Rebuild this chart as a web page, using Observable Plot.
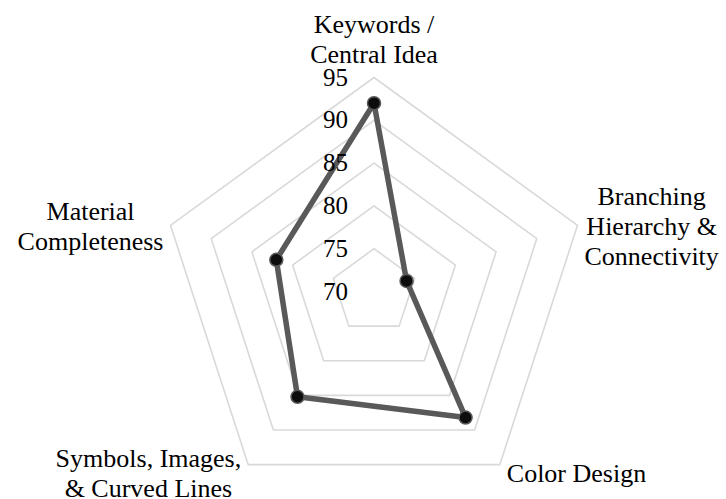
<!DOCTYPE html>
<html>
<head>
<meta charset="utf-8">
<script src="https://cdn.jsdelivr.net/npm/d3@7"></script>
<script src="https://cdn.jsdelivr.net/npm/@observablehq/plot@0.6"></script>
<style>
  html, body { margin: 0; padding: 0; background: #ffffff; }
  #chart svg { display: block; }
</style>
</head>
<body>
<div id="chart"></div>
<script>
// Radar chart: mind-map assessment scores across five criteria
const categories = [
  "Keywords /\nCentral Idea",
  "Branching\nHierarchy &\nConnectivity",
  "Color Design",
  "Symbols, Images,\n& Curved Lines",
  "Material\nCompleteness"
];
const scores = [92, 74, 88.2, 85.2, 82];
const tickLabels = [70, 75, 80, 85, 90, 95];
const ringLevels = [75, 80, 85, 90, 95];

const minValue = 70;
const maxValue = 95;

// layout
const width = 726;
const height = 499;
const cx = 373.5;          // centre of the web, px
const cy = 291;
const radiusPx = 214;      // radius of the outer ring, px
const k = radiusPx / (maxValue - minValue); // px per score unit
const fontFamily = '"Liberation Serif", "Times New Roman", serif';
const labelSize = 26;
const tickSize = 25;
const lineHeight = 1.15;
const gap = 7;

const n = categories.length;
const angle = i => (i * 2 * Math.PI) / n;
const polar = (i, v) => {
  const r = v - minValue;
  return { x: r * Math.sin(angle(i)), y: r * Math.cos(angle(i)) };
};

// grid rings (closed pentagons)
const rings = ringLevels.flatMap(level =>
  d3.range(n + 1).map(j => ({ level, ...polar(j % n, level) }))
);

// score polygon
const points = scores.map((s, i) => ({ category: categories[i], score: s, ...polar(i, s) }));
const outline = [...points, points[0]];

// text measurement for placing the category labels just outside the vertices
const ctx = document.createElement("canvas").getContext("2d");
ctx.font = `${labelSize}px ${fontFamily}`;
const labels = categories.map((c, i) => {
  const lines = c.split("\n");
  const w = d3.max(lines, l => ctx.measureText(l).width);
  const v = polar(i, maxValue);
  const s = Math.sin(angle(i)), co = Math.cos(angle(i));
  const sx = Math.abs(s) < 0.01 ? 0 : Math.sign(s);
  const blockH = lines.length * labelSize * lineHeight;
  const dyPx = co > 0.9 ? -(gap + 2 + blockH / 2) : co < -0.5 ? 8 : 0;
  return {
    text: c,
    x: v.x + (sx * (gap + w / 2)) / k,
    y: v.y - dyPx / k
  };
});

const chart = Plot.plot({
  width,
  height,
  margin: 0,
  x: { domain: [-cx / k, (width - cx) / k], range: [0, width], axis: null },
  y: { domain: [-(height - cy) / k, cy / k], range: [height, 0], axis: null },
  style: { fontFamily, background: "#ffffff" },
  marks: [
    Plot.line(rings, { x: "x", y: "y", z: "level", stroke: "#d9d9d9", strokeWidth: 1.6 }),
    Plot.line(outline, {
      x: "x", y: "y", stroke: "#595959", strokeWidth: 5.5,
      strokeLinejoin: "round", strokeLinecap: "round"
    }),
    Plot.dot(points, { x: "x", y: "y", r: 6.5, fill: "#0d0d0d", stroke: "#595959", strokeWidth: 1.5 }),
    Plot.text(tickLabels, {
      x: () => 0, y: d => d - minValue, text: d => String(d),
      textAnchor: "end", dx: -26, fontSize: tickSize, fill: "#000000"
    }),
    Plot.text(labels, {
      x: "x", y: "y", text: "text", textAnchor: "middle", lineAnchor: "middle",
      lineHeight, fontSize: labelSize, fill: "#000000"
    })
  ]
});

document.getElementById("chart").append(chart);
</script>
</body>
</html>
